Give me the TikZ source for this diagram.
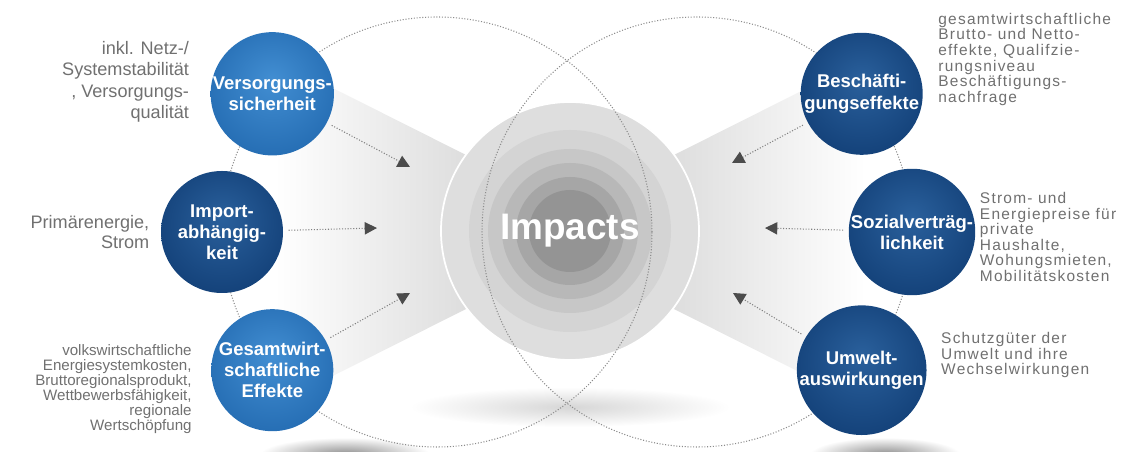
\documentclass[tikz,border=0pt]{standalone}
\usepackage{fontspec}
\setmainfont{Liberation Sans}
\newfontfamily\trackfont[LetterSpace=8]{Liberation Sans}
\usetikzlibrary{arrows.meta,positioning,calc}

\definecolor{notegray}{RGB}{112,112,112}
\pgfdeclareradialshading{lightglow}{\pgfpoint{0bp}{6bp}}{color(0bp)=(rgb,255:red,66;green,142;blue,210); color(28bp)=(rgb,255:red,38;green,110;blue,180); color(50bp)=(rgb,255:red,20;green,76;blue,138)}
\pgfdeclareradialshading{darkglow}{\pgfpoint{0bp}{6bp}}{color(0bp)=(rgb,255:red,42;green,96;blue,156); color(28bp)=(rgb,255:red,20;green,66;blue,122); color(50bp)=(rgb,255:red,8;green,40;blue,86)}

\begin{document}
\begin{tikzpicture}[
    bubble/.style={circle, minimum size=2.44cm, inner sep=0pt, align=center, text=white, shade, font=\fontsize{10.5}{12}\selectfont\bfseries},
    lightball/.style={bubble, shading=lightglow},
    darkball/.style={bubble, shading=darkglow},
    note/.style={inner sep=0pt, text=notegray},
    wide/.style={note, align=left, font=\trackfont\fontsize{8.8}{8.9}\selectfont},
    ring/.style={draw=black!45, densely dotted, line width=0.6pt},
    arr/.style={draw=black!50, densely dotted, line width=0.6pt, -{Triangle[length=7pt, width=7pt, color=black!70]}, shorten <=3pt}
]
\useasboundingbox (0,0) rectangle (22.74,9.04);

% floor shadows
\shade[inner color=black!45, outer color=white] (6.9,-0.05) ellipse (1.7 and 0.34);
\shade[inner color=black!16, outer color=white] (11.4,0.9) ellipse (3.2 and 0.4);
\shade[inner color=black!45, outer color=white] (17.7,-0.05) ellipse (1.5 and 0.34);

% funnels towards the centre
\shade[left color=white, right color=black!14] (5.5,7.86) -- (9.6,5.8) -- (9.6,3.0) -- (5.5,0.94) -- cycle;
\shade[left color=black!14, right color=white] (13.2,5.8) -- (17.3,7.86) -- (17.3,0.94) -- (13.2,3.0) -- cycle;

\coordinate (lc) at (8.74,4.40);
\coordinate (rc) at (13.94,4.40);
\coordinate (mc) at (11.40,4.42);

% centre disc
\foreach \r/\g in {2.58/13, 2.02/17, 1.64/22, 1.36/28, 1.08/35, 0.82/42}
    \fill[black!\g] (mc) circle (\r);
\draw[white, line width=1pt] (mc) circle (2.58);

\draw[ring] (lc) circle (4.3);
\draw[ring] (rc) circle (4.3);

\node[text=white, font=\fontsize{21}{24}\selectfont\bfseries] (imp) at (mc) {Impacts};

% left side
\node[lightball] (vs) at ($(lc)+(140:4.3)$) {Versorgungs-\\sicherheit};
\node[darkball] (im) at ($(lc)+(180:4.3)$) {Import-\\abhängig-\\keit};
\node[lightball] (ge) at ($(lc)+(220:4.3)$) {Gesamtwirt-\\schaftliche\\Effekte};

% right side
\node[darkball] (be) at ($(rc)+(40:4.3)$) {Beschäfti-\\gungseffekte};
\node[darkball] (so) at ($(rc)+(0:4.3)$) {Sozialverträg-\\lichkeit};
\node[darkball] (um) at ($(rc)+(-40:4.3)$) {Umwelt-\\auswirkungen};

\node[note, left=0.42cm of vs, yshift=0.24cm, align=right, font=\fontsize{10.3}{12}\selectfont] (vsnote) {inkl. Netz-/\\Systemstabilität\\, Versorgungs-\\qualität};
\node[note, left=0.22cm of im, align=right, font=\fontsize{10.3}{11.3}\selectfont] (imnote) {Primärenergie,\\Strom};
\node[note, left=0.38cm of ge, yshift=-0.38cm, align=right, font=\fontsize{8.6}{8.6}\selectfont] (genote) {volkswirtschaftliche\\Energiesystemkosten,\\Bruttoregionalsprodukt,\\Wettbewerbsfähigkeit,\\regionale\\Wertschöpfung};

\node[wide, right=0.30cm of be, yshift=0.69cm] (benote) {gesamtwirtschaftliche\\Brutto- und Netto-\\effekte, Qualifzie-\\rungsniveau\\Beschäftigungs-\\nachfrage};
\node[wide, right=0.08cm of so, yshift=-0.1cm] (sonote) {Strom- und\\Energiepreise für\\private\\Haushalte,\\Wohungsmieten,\\Mobilitätskosten};
\node[wide, right=0.28cm of um, yshift=0.3cm] (umnote) {Schutzgüter der\\Umwelt und ihre\\Wechselwirkungen};

% arrows into the centre
\coordinate (t1) at (8.20,5.70);
\coordinate (t2) at (7.54,4.48);
\coordinate (t3) at (8.20,3.18);
\coordinate (t4) at (14.64,5.78);
\coordinate (t5) at (15.30,4.48);
\coordinate (t6) at (14.66,3.18);
\draw[arr] (vs) -- (t1);
\draw[arr] (im) -- (t2);
\draw[arr] (ge) -- (t3);
\draw[arr] (be) -- (t4);
\draw[arr] (so) -- (t5);
\draw[arr] (um) -- (t6);
\end{tikzpicture}
\end{document}
